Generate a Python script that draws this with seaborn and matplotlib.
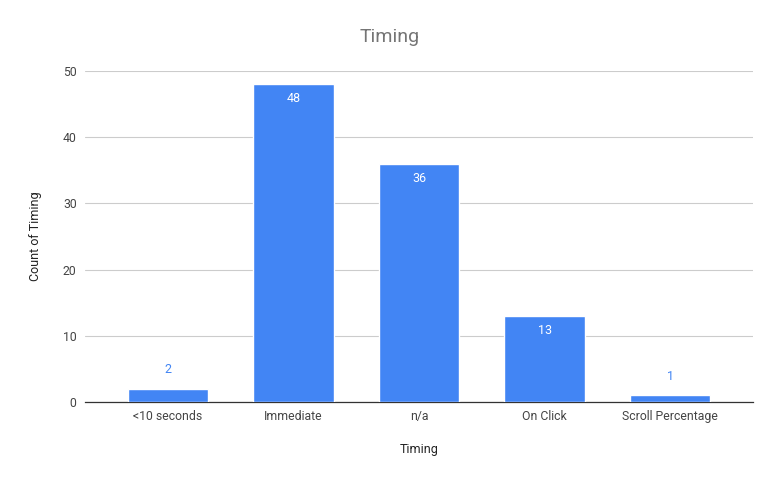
import numpy as np
import pandas as pd
import matplotlib
matplotlib.use('Agg')
import matplotlib.pyplot as plt
import seaborn as sns

categorias = ['<10 seconds', 'Immediate', 'n/a', 'On Click', 'Scroll Percentage']
conteos = [2, 48, 36, 13, 1]

df = pd.DataFrame({'Timing': categorias, 'Count of Timing': conteos})

sns.set_theme(style='white')
plt.rcParams['font.family'] = ['Roboto', 'DejaVu Sans']

fig = plt.figure(figsize=(7.77, 4.80), dpi=100)
ax = fig.add_axes([85 / 777, 78 / 480, 668 / 777, 331 / 480])

sns.barplot(data=df, x='Timing', y='Count of Timing', color='#4285F4',
            saturation=1, width=0.64, ax=ax, zorder=3)

ax.set_xlim(-0.66, 4.66)
ax.set_ylim(0, 50)
ax.set_yticks([0, 10, 20, 30, 40, 50])
ax.yaxis.grid(True, color='#cccccc', linewidth=0.8, zorder=0)
for s in ['top', 'right', 'left']:
    ax.spines[s].set_visible(False)
ax.spines['bottom'].set_color('#333333')
ax.spines['bottom'].set_linewidth(0.9)
ax.tick_params(axis='both', length=0, labelsize=8.8, colors='#444444')
ax.tick_params(axis='x', pad=6)
ax.tick_params(axis='y', pad=6)

for i, v in enumerate(conteos):
    if v >= 5:
        ax.text(i, v - 1.2, str(v), ha='center', va='top', color='white', fontsize=9)
    else:
        ax.text(i, v + 1.9, str(v), ha='center', va='bottom', color='#4285F4', fontsize=9)

ax.set_xlabel('Timing', fontsize=9, color='#222222', labelpad=14)
ax.set_ylabel('Count of Timing', fontsize=9, color='#222222', labelpad=15)
fig.text(390 / 777, 1 - 37 / 480, 'Timing', ha='center', va='center',
         fontsize=14, color='#757575')

fig.savefig('out.png', dpi=100)
